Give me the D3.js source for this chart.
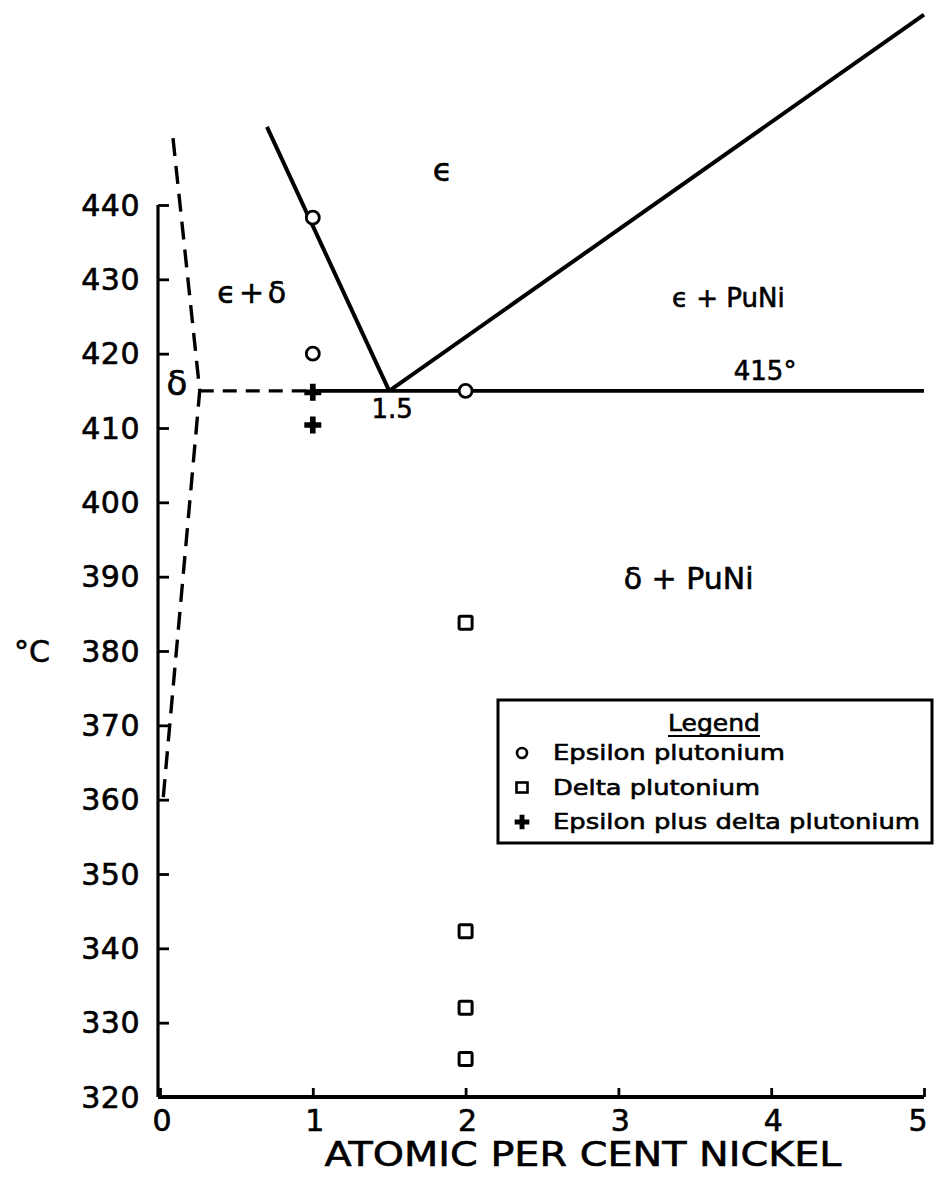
<!DOCTYPE html>
<html>
<head>
<meta charset="utf-8">
<script src="https://cdn.jsdelivr.net/npm/d3@7"></script>
<style>
  html, body { margin: 0; padding: 0; background: #fff; }
  svg { display: block; }
  text { font-family: "DejaVu Sans", sans-serif; fill: #000; stroke: #000; stroke-width: 0.6px; }
</style>
</head>
<body>
<svg id="chart" width="936" height="1178"></svg>
<script>
// ---------- data ----------
const xTicks = [0, 1, 2, 3, 4, 5];
const yTicks = [320, 330, 340, 350, 360, 370, 380, 390, 400, 410, 420, 430, 440];

const epsilonPoints = [[1, 438.3], [1, 420], [2, 415]];
const deltaPoints = [[2, 383.8], [2, 342.3], [2, 332.0], [2, 325.1]];
const mixedPoints = [[1, 414.8], [1, 410.4]];

const liquidusLeft = [[0.70, 450.5], [1.5, 415]];
const liquidusRight = [[1.5, 415], [5, 465.6]];
const eutectoidSolid = [[1, 415], [5, 415]];
const eutectoidDashed = [[0.26, 415], [1, 415]];
const deltaBoundary = [[0.085, 449], [0.26, 415], [0.02, 360]];

const regionLabels = [
  { t: "\u03F5", x: 1.85, y: 444.7, size: 32 },
  { t: "\u03F5 + \u03B4", x: 0.59, y: 428.2, size: 30, compact: true },
  { t: "\u03B4", x: 0.11, y: 416.0, size: 34 },
  { t: "1.5", x: 1.52, y: 412.6, size: 26 },
  { t: "\u03F5 + PuNi", x: 3.72, y: 427.5, size: 26 },
  { t: "415\u00B0", x: 3.96, y: 417.7, size: 26 },
  { t: "\u03B4 + PuNi", x: 3.46, y: 389.8, size: 30 }
];

const legendItems = [
  { label: "Epsilon plutonium", kind: "circle", w: 232 },
  { label: "Delta plutonium", kind: "square", w: 207 },
  { label: "Epsilon plus delta plutonium", kind: "cross", w: 367 }
];

// ---------- scales ----------
const svg = d3.select("#chart");
const x = d3.scaleLinear().domain([0, 5]).range([160, 924]);
const y = d3.scaleLinear().domain([320, 440]).range([1097, 205]);
const line = d3.line().x(d => x(d[0])).y(d => y(d[1]));

// ---------- axes ----------
const yAxis = d3.axisRight(y).tickValues(yTicks).tickSize(11).tickFormat("");
const gy = svg.append("g").attr("transform", `translate(${x(0) - 2},0)`).call(yAxis);
gy.select(".domain").attr("d", `M0,${y(440)}V${y(320)}`).attr("stroke", "#000").attr("stroke-width", 3.2);
gy.selectAll(".tick line").attr("stroke", "#000").attr("stroke-width", 2.8);

const xAxis = d3.axisTop(x).tickValues(xTicks).tickSize(9).tickFormat("");
const gx = svg.append("g").attr("transform", `translate(0,${y(320)})`).call(xAxis);
gx.select(".domain").attr("d", `M${x(0)},0H${x(5)}`).attr("stroke", "#000").attr("stroke-width", 3.8);
gx.selectAll(".tick line").attr("stroke", "#000").attr("stroke-width", 2.8);

// tick labels
svg.append("g").selectAll("text").data(yTicks).join("text")
  .attr("x", 140).attr("y", d => y(d))
  .attr("text-anchor", "end").attr("dominant-baseline", "central")
  .attr("font-size", 30).attr("letter-spacing", 0.5)
  .text(d => d);

svg.append("g").selectAll("text").data(xTicks).join("text")
  .attr("x", d => Math.min(x(d) + 2, 918)).attr("y", 1131)
  .attr("text-anchor", "middle")
  .attr("font-size", 30)
  .text(d => d);

svg.append("text").attr("x", 583).attr("y", 1166)
  .attr("text-anchor", "middle").attr("font-size", 33)
  .attr("textLength", 517).attr("lengthAdjust", "spacingAndGlyphs")
  .text("ATOMIC PER CENT NICKEL");

svg.append("text").attr("x", 50).attr("y", 651)
  .attr("text-anchor", "end").attr("dominant-baseline", "central")
  .attr("font-size", 30)
  .text("\u00B0C");

// ---------- phase boundaries ----------
const lines = svg.append("g").attr("fill", "none").attr("stroke", "#000");
lines.append("path").datum(liquidusLeft).attr("d", line).attr("stroke-width", 4);
lines.append("path").datum(liquidusRight).attr("d", line).attr("stroke-width", 4);
lines.append("path").datum(eutectoidSolid).attr("d", line).attr("stroke-width", 3.8);
lines.append("path").datum(eutectoidDashed).attr("d", line).attr("stroke-width", 3.2)
  .attr("stroke-dasharray", "14 9");
lines.append("path").datum(deltaBoundary).attr("d", line).attr("stroke-width", 3.4)
  .attr("stroke-dasharray", "18 10");

// ---------- region labels ----------
svg.append("g").selectAll("text").data(regionLabels).join("text")
  .attr("x", d => x(d.x)).attr("y", d => y(d.y))
  .attr("text-anchor", "middle").attr("dominant-baseline", "central")
  .attr("font-size", d => d.size)
  .attr("letter-spacing", d => d.compact ? -3 : 0)
  .text(d => d.t);

// ---------- data points ----------
const cross = d3.symbol().type(d3.symbolCross).size(160);

svg.append("g").selectAll("circle").data(epsilonPoints).join("circle")
  .attr("cx", d => x(d[0])).attr("cy", d => y(d[1])).attr("r", 6.5)
  .attr("fill", "#fff").attr("stroke", "#000").attr("stroke-width", 2.8);

svg.append("g").selectAll("rect").data(deltaPoints).join("rect")
  .attr("x", d => x(d[0]) - 6.5).attr("y", d => y(d[1]) - 6.5)
  .attr("width", 13).attr("height", 13).attr("rx", 1.5)
  .attr("fill", "#fff").attr("stroke", "#000").attr("stroke-width", 3);

svg.append("g").selectAll("path").data(mixedPoints).join("path")
  .attr("transform", d => `translate(${x(d[0])},${y(d[1])})`)
  .attr("d", cross).attr("fill", "#000");

// ---------- legend ----------
const lg = svg.append("g");
lg.append("rect").attr("x", 498).attr("y", 700).attr("width", 434).attr("height", 143)
  .attr("fill", "#fff").attr("stroke", "#000").attr("stroke-width", 3);
lg.append("text").attr("x", 714).attr("y", 731).attr("text-anchor", "middle")
  .attr("font-size", 23).attr("textLength", 92).attr("lengthAdjust", "spacingAndGlyphs")
  .text("Legend");
lg.append("line").attr("x1", 668).attr("x2", 760).attr("y1", 736).attr("y2", 736)
  .attr("stroke", "#000").attr("stroke-width", 2.2);

const rowY = d3.scalePoint().domain(legendItems.map(d => d.label)).range([760, 829]);
const rows = lg.selectAll("g.row").data(legendItems).join("g").attr("class", "row")
  .attr("transform", d => `translate(0,${rowY(d.label)})`);
rows.append("text").attr("x", 553).attr("y", 0)
  .attr("font-size", 21).attr("textLength", d => d.w).attr("lengthAdjust", "spacingAndGlyphs")
  .text(d => d.label);
rows.each(function(d) {
  const g = d3.select(this);
  if (d.kind === "circle") {
    g.append("circle").attr("cx", 522).attr("cy", -7).attr("r", 5)
      .attr("fill", "#fff").attr("stroke", "#000").attr("stroke-width", 2.6);
  } else if (d.kind === "square") {
    g.append("rect").attr("x", 516.5).attr("y", -12).attr("width", 11).attr("height", 10)
      .attr("fill", "#fff").attr("stroke", "#000").attr("stroke-width", 2.6);
  } else {
    g.append("path").attr("transform", "translate(522,-7)")
      .attr("d", d3.symbol().type(d3.symbolCross).size(120)).attr("fill", "#000");
  }
});
</script>
</body>
</html>
